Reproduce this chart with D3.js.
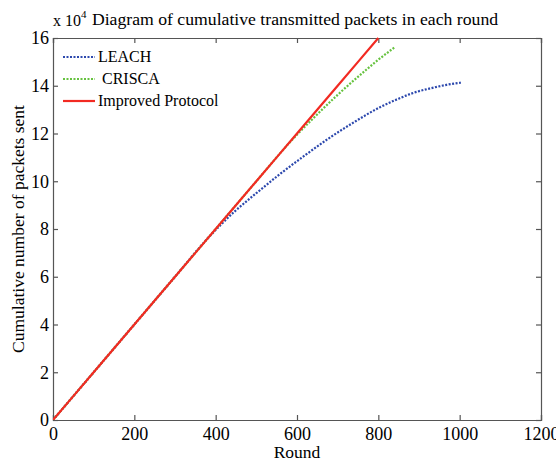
<!DOCTYPE html>
<html><head><meta charset="utf-8">
<script src="https://cdn.jsdelivr.net/npm/d3@7"></script>
<style>body{margin:0;background:#fff}svg{display:block}</style>
</head><body>
<script>
const xTicks = [0,200,400,600,800,1000,1200];
const yTicks = [0,20000,40000,60000,80000,100000,120000,140000,160000];
const yTickLabels = ["0","2","4","6","8","10","12","14","16"];
const leachRounds = [0,100,200,300,380,447,500,558,620,681,740,804,850,886,930,968,1003];
const leachValues = [0,20000,40000,60000,76000,87400,95000,103000,110900,118300,124700,131000,134600,137000,139000,140400,141300];
const criscaRounds = [0,100,200,300,400,500,560,585,600,636,700,771,800,841];
const criscaValues = [0,20000,40000,60000,80000,100000,112000,116800,119500,125700,136200,146800,150900,156200];
const improvedRounds = [0,100,200,300,400,500,600,700,800];
const improvedValues = [0,20000,40000,60000,80000,100000,120000,140000,160000];
const seriesNames = ["LEACH"," CRISCA","Improved Protocol"];
const seriesColors = ["#2c48ad","#66c23f","#f22a22"];

const FONT = "'Liberation Serif','Times New Roman',serif";
const W=556,H=461, L=53,R=541,T=38,B=420;
const svg=d3.select("body").append("svg").attr("width",W).attr("height",H);
const x=d3.scaleLinear().domain([0,1200]).range([L,R]);
const y=d3.scaleLinear().domain([0,160000]).range([B,T]);

svg.append("defs").append("clipPath").attr("id","clip").append("rect")
  .attr("x",L).attr("y",T-1).attr("width",R-L).attr("height",B-T+1);

const axCol="#555";
const gx=svg.append("g").attr("transform",`translate(0,${B})`)
  .call(d3.axisBottom(x).tickValues(xTicks).tickSize(-5).tickPadding(7).tickFormat(d3.format("d")));
const gxt=svg.append("g").attr("transform",`translate(0,${T})`)
  .call(d3.axisTop(x).tickValues(xTicks).tickSize(-5).tickFormat(""));
const gy=svg.append("g").attr("transform",`translate(${L},0)`)
  .call(d3.axisLeft(y).tickValues(yTicks).tickSize(-5).tickPadding(4).tickFormat((d,i)=>yTickLabels[i]));
const gyr=svg.append("g").attr("transform",`translate(${R},0)`)
  .call(d3.axisRight(y).tickValues(yTicks).tickSize(-5).tickFormat(""));
[gx,gxt,gy,gyr].forEach(g=>{
  g.attr("font-family",null).attr("font-size",null);
  g.selectAll("path").attr("stroke",axCol).attr("stroke-width",1.2);
  g.selectAll("line").attr("stroke",axCol).attr("stroke-width",1.2);
  g.selectAll("text").style("font-family",FONT).style("font-size","18px").attr("fill","#000");
});

const line=d3.line().x(d=>x(d[0])).y(d=>y(d[1])).curve(d3.curveMonotoneX);
const plot=svg.append("g").attr("clip-path","url(#clip)");
const series=[
  {r:leachRounds,v:leachValues,dash:"2,1.5"},
  {r:criscaRounds,v:criscaValues,dash:"2,1.5"},
  {r:improvedRounds,v:improvedValues,dash:null}
];
series.forEach((s,i)=>{
  const pts=s.r.map((r,j)=>[r,s.v[j]]);
  plot.append("path").datum(pts).attr("d",line).attr("fill","none")
    .attr("stroke",seriesColors[i]).attr("stroke-width",2.2)
    .attr("stroke-dasharray",s.dash);
});

const lg=svg.append("g");
seriesNames.forEach((n,i)=>{
  const yy=57+i*22;
  lg.append("line").attr("x1",63).attr("x2",95).attr("y1",yy).attr("y2",yy)
    .attr("stroke",seriesColors[i]).attr("stroke-width",2.2)
    .attr("stroke-dasharray",series[i].dash);
  lg.append("text").attr("x",98).attr("y",yy+5).style("font-family",FONT).style("font-size","16px")
    .style("white-space","pre").text(n);
});

svg.append("text").attr("x",297).attr("y",458).attr("text-anchor","middle")
  .style("font-family",FONT).style("font-size","17.5px").text("Round");
svg.append("text").attr("transform",`translate(24,${(T+B)/2}) rotate(-90)`).attr("text-anchor","middle")
  .style("font-family",FONT).style("font-size","17.5px").text("Cumulative number of packets sent");
const xe=svg.append("text").attr("x",53).attr("y",26).style("font-family",FONT).style("font-size","16px");
xe.append("tspan").text("x 10");
xe.append("tspan").attr("dy",-8).style("font-size","11px").text("4");
svg.append("text").attr("x",295).attr("y",25).attr("text-anchor","middle")
  .style("font-family",FONT).style("font-size","17.7px").text("Diagram of cumulative transmitted packets in each round");
</script>
</body></html>
